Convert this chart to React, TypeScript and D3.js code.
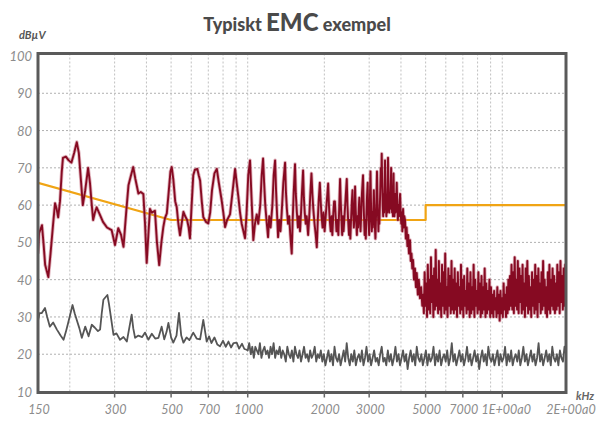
import * as d3 from "d3";

// ---- data (kHz / dBµV) ----
const yTickValues = [10, 20, 30, 40, 50, 60, 70, 80, 90, 100];
const xTickValues = [150, 300, 500, 700, 1000, 2000, 3000, 5000, 7000, 10000, 17800];
const xTickText = ["150", "300", "500", "700", "1000", "2000", "3000", "5000", "7000", "1E+00a0", "2E+00a0"];
const xGridValues = [200, 300, 400, 500, 600, 700, 800, 900, 1000, 2000, 3000, 4000, 5000, 6000, 7000, 8000, 9000, 10000];

// limit line (quasi-peak)
const limitFreq = [150, 500, 5000, 5000, 17800];
const limitVal = [66, 56, 56, 60, 60];

// measured emission, explicit points 150 kHz .. 4.9 MHz
const redPoints: [number, number][] = [
  [150, 47], [151.5, 52.5], [155.5, 54.6], [158, 49], [160, 44], [164.7, 40.7], [168, 47], [172, 55],
  [175, 60.5], [177.5, 59], [180, 56.7], [183, 61], [186, 69], [188, 72.7], [193, 73], [198, 72],
  [203, 71.4], [208, 74], [213, 76.9], [217, 74], [221, 67], [225, 60], [230, 64], [236, 70],
  [240, 66], [244, 60], [247, 56], [251, 58], [255, 59.4], [263, 57.3], [270, 55.5], [280, 54],
  [292, 53.3], [301, 49.3], [310, 53.8], [318, 52], [325, 48.8], [333, 58], [340, 65.3], [348, 68],
  [355, 70.2], [362, 67], [372, 63.1], [380, 63.5], [389, 63], [395, 55], [401, 44.5], [407, 52],
  [413, 59], [420, 58], [432, 58.5], [440, 50], [449, 43.9], [458, 50], [466, 54.1], [473, 56.5],
  [481, 57.8], [490, 64], [497, 69], [503, 70.2], [510, 67], [519, 61], [526, 59.5], [534, 55],
  [542, 51.9], [550, 55], [559, 58.2], [568, 57], [578, 56], [586, 54], [593, 51.1], [600, 58],
  [611, 68], [620, 69.5], [634, 69.7], [642, 68], [650, 66.6], [660, 61], [669, 56.8], [685, 55.5],
  [700, 55.1], [712, 58], [724, 64], [740, 68.5], [756, 69.7], [770, 66], [790, 61.3], [802, 58],
  [815, 54.1], [830, 56], [852, 57.5], [870, 63], [892, 69.7], [905, 66], [919, 62.2], [933, 58],
  [947, 55], [976, 51.1], [990, 58], [1005, 68], [1021, 72], [1035, 62], [1052, 50.6], [1068, 55],
  [1085, 57.5], [1100, 55], [1120, 60], [1135, 68], [1149, 72.5], [1160, 66], [1172, 60], [1185, 56],
  [1202, 51.4], [1215, 57], [1230, 54], [1250, 60], [1265, 68], [1281, 72], [1292, 64], [1305, 57],
  [1316, 51.4], [1330, 56], [1345, 53], [1360, 58], [1380, 66], [1402, 71.4], [1412, 64], [1425, 59],
  [1440, 55], [1455, 57], [1470, 52], [1489, 47], [1500, 55], [1515, 63], [1534, 71], [1545, 63],
  [1560, 58], [1575, 54], [1590, 57], [1605, 53], [1620, 58], [1635, 64], [1650, 69.3], [1662, 62],
  [1675, 58], [1690, 55], [1705, 57], [1727, 52], [1745, 57], [1762, 63], [1780, 68.5], [1795, 63],
  [1810, 59], [1830, 55], [1850, 52], [1868, 48.7], [1885, 56], [1900, 61], [1920, 66], [1935, 61],
  [1950, 57], [1968, 54], [1985, 58], [2005, 53], [2025, 57], [2045, 61], [2070, 65.8], [2085, 60],
  [2100, 56], [2118, 53], [2135, 57], [2150, 52], [2170, 58], [2185, 61], [2200, 61], [2215, 57],
  [2232, 53], [2250, 56], [2270, 52], [2290, 60], [2306, 67], [2320, 61], [2335, 56], [2350, 52],
  [2365, 57], [2380, 53], [2400, 57], [2425, 62], [2450, 67], [2465, 60], [2480, 56], [2500, 52],
  [2515, 56], [2530, 51], [2550, 57], [2565, 61], [2580, 64], [2595, 58], [2612, 54], [2628, 57],
  [2641, 65], [2655, 59], [2670, 55], [2685, 52], [2700, 57], [2715, 54], [2730, 59], [2745, 62],
  [2760, 56], [2775, 53], [2790, 57], [2810, 63], [2838, 68], [2852, 61], [2866, 56], [2880, 52],
  [2895, 56], [2910, 51], [2925, 57], [2940, 62], [2960, 66], [2972, 59], [2985, 55], [3000, 52],
  [3012, 57], [3024, 64], [3036, 69], [3048, 62], [3060, 56], [3072, 53], [3085, 58], [3100, 54],
  [3115, 59], [3130, 64], [3145, 58], [3160, 54], [3175, 51], [3190, 56], [3205, 62], [3220, 69],
  [3235, 62], [3250, 57], [3262, 53], [3275, 58], [3290, 55], [3305, 60], [3320, 65], [3335, 70],
  [3350, 66], [3361, 73.8], [3375, 66], [3390, 60], [3405, 57], [3420, 63], [3435, 58], [3450, 66],
  [3463, 72], [3475, 65], [3490, 60], [3505, 57], [3520, 62], [3535, 58], [3548, 67], [3558, 72.7],
  [3572, 66], [3585, 61], [3600, 58], [3615, 63], [3630, 59], [3645, 65], [3660, 70], [3675, 63],
  [3690, 58], [3705, 62], [3720, 57], [3740, 68.5], [3755, 61], [3770, 57], [3790, 63], [3810, 58],
  [3830, 61], [3850, 66], [3870, 60], [3890, 56], [3910, 60], [3930, 57], [3950, 61], [3968, 63],
  [3990, 58], [4010, 55], [4030, 58], [4050, 53], [4077, 59], [4100, 54], [4125, 57], [4150, 56],
  [4180, 51], [4210, 54], [4240, 49], [4270, 52], [4300, 47], [4341, 50.6], [4370, 45], [4400, 47],
  [4430, 43], [4462, 45.3], [4500, 40], [4540, 43], [4580, 38], [4614, 41.8], [4660, 36], [4700, 40],
  [4750, 35], [4800, 38], [4850, 33], [4886, 35.4],
];

// measured emission, dense sweep 4.9 MHz .. 17.8 MHz (log-spaced samples)
const redSweepStart = 4886;
const redSweepEnd = 17800;
const redSweep = [
  36, 31, 42, 33, 39, 30, 44, 32, 40, 31, 46, 34, 41, 30, 43, 32, 48, 33, 40, 31, 45, 32, 39, 30, 44, 33, 42, 31, 47, 32, 38, 30, 43, 33, 41, 31, 45, 32, 40, 31,
  43, 32, 39, 30, 42, 33, 38, 31, 44, 32, 40, 30, 41, 33, 37, 31, 43, 32, 39, 30, 42, 31, 38, 32, 44, 30, 40, 33, 37, 31, 42, 32, 39, 30, 41, 31, 38, 32, 43, 30, 39, 31, 37, 32, 40, 30,
  38, 31, 36, 30, 37, 32, 35, 30, 38, 31, 36, 29, 37, 31, 35, 30, 39, 32, 36, 30, 38, 31, 40, 32, 41, 33,
  44, 32, 42, 31, 46, 33, 40, 32, 45, 31, 43, 34, 41, 31, 44, 32, 39, 30, 43, 33, 45, 31, 41, 32, 38, 30, 42, 33, 40, 31, 44, 32, 41, 30, 43, 34, 39, 31, 42, 32,
  45, 33, 40, 31, 38, 30, 42, 32, 44, 31, 40, 33, 43, 32, 41, 31, 39, 32, 44, 33, 42, 31, 45, 34, 41, 32, 43, 33, 44, 36,
];

// background / ambient, explicit points 150 kHz .. 1 MHz
const grayPoints: [number, number][] = [
  [150, 29], [152, 31], [155, 31], [159.8, 32.4], [163, 30], [167, 27.4], [172, 28.5], [178, 26.6],
  [184, 25], [189, 23.9], [193, 26], [197, 28.4], [205, 33.2], [209, 31], [213, 29.2], [218, 27],
  [223, 24.4], [230, 27.4], [237, 24.8], [244, 27.9], [251, 27.1], [258, 26.2], [263, 26.6], [267, 31],
  [271, 34.6], [281, 35.9], [285, 33.5], [288, 31.4], [297, 25.2], [305, 25.6], [315, 23.9], [325, 24.6],
  [335, 23.4], [350, 30.6], [355, 27], [361, 24.4], [372, 25], [385, 24.6], [395, 25.8], [407, 23.9],
  [420, 25.5], [433, 24.2], [446, 24.4], [459, 27.4], [470, 24], [480, 26], [488, 28.4], [500, 24.5],
  [510, 23.1], [525, 25], [537, 31.1], [548, 25], [559, 23.1], [575, 24.5], [590, 23.8], [611, 25.8],
  [630, 24.2], [650, 24], [669, 29.2], [690, 23.4], [705, 24.8], [720, 23], [740, 24.5], [760, 22.6],
  [778, 22.1], [800, 23.6], [820, 22], [840, 23.4], [860, 21.8], [880, 23], [905, 23.1], [925, 21.5],
  [950, 22.8], [970, 21.4], [991, 21.2],
];

// background, dense sweep 1 MHz .. 17.8 MHz
const graySweepStart = 1000;
const graySweepEnd = 17800;
const graySweep = [
  21, 23, 20, 22, 19, 22, 21, 20, 23, 19, 21, 22, 20, 21, 19, 22, 20, 23, 19, 21, 20, 22, 19, 21, 20, 18, 22, 20, 19, 21, 18, 22, 20, 19, 21, 18, 20, 22, 19, 20, 18, 21, 19, 20, 22, 18, 20, 19, 21, 18,
  20, 17, 19, 21, 18, 20, 17, 22, 19, 18, 20, 17, 19, 21, 18, 23, 19, 17, 20, 18, 21, 17, 19, 20, 18, 21, 17, 19, 22, 18, 20, 17, 19, 21, 18, 19, 17, 20, 22, 18,
  19, 17, 21, 18, 20, 17, 19, 22, 18, 20, 17, 19, 21, 18, 20, 16, 19, 21, 18, 20, 17, 22, 19, 18, 20, 17, 19, 21, 17, 20, 18, 19, 22, 17, 20, 18, 21, 17, 19, 20,
  18, 21, 17, 19, 23, 18, 20, 17, 19, 21, 18, 20, 17, 19, 22, 18, 20, 17, 19, 21, 18, 20, 16, 19, 21, 18, 20, 17, 22, 19, 18, 20, 17, 19, 21, 17, 20, 18, 19, 22,
  17, 20, 18, 21, 17, 19, 20, 18, 21, 17, 19, 22, 18, 20, 17, 19, 21, 18, 20, 17, 19, 23, 18, 20, 17, 19, 21, 18, 20, 17, 22, 19, 18, 20, 17, 21, 19, 18, 22, 20,
];

// ---- layout ----
const W = 606;
const H = 421;
const plot = { left: 38, right: 566, top: 53.5, bottom: 392.5 };

const x = d3.scaleLog().domain([150, 17800]).range([plot.left, plot.right]);
const y = d3.scaleLinear().domain([10, 100]).range([391.5, 56]);

// sample frequencies of a log sweep
const sweepFreqs = (start: number, end: number, n: number) =>
  d3.range(n).map((i) => start * Math.pow(end / start, i / (n - 1)));

const line = d3
  .line<[number, number]>()
  .x((d) => x(d[0]))
  .y((d) => y(d[1]));

export default function App() {
  const redSweepF = sweepFreqs(redSweepStart, redSweepEnd, redSweep.length);
  const redData: [number, number][] = [
    ...redPoints,
    ...redSweep.map((v, i) => [redSweepF[i], v] as [number, number]),
  ];
  const graySweepF = sweepFreqs(graySweepStart, graySweepEnd, graySweep.length);
  const grayData: [number, number][] = [
    ...grayPoints,
    ...graySweep.map((v, i) => [graySweepF[i], v] as [number, number]),
  ];
  const limitData = limitFreq.map((f, i) => [f, limitVal[i]] as [number, number]);

  const labelFont = "Lato, 'DejaVu Sans', sans-serif";

  return (
    <svg
      width={W}
      height={H}
      viewBox={`0 0 ${W} ${H}`}
      style={{ position: "absolute", left: 0, top: 0, background: "#fff" }}
    >
      <defs>
        <clipPath id="plotClip">
          <rect x={plot.left} y={plot.top} width={plot.right - plot.left} height={plot.bottom - plot.top} />
        </clipPath>
      </defs>

      {/* Title */}
      <text x={297} y={31} textAnchor="middle" fontFamily={labelFont} fontWeight="900" fill="#4a4a4a" fontSize="18">
        Typiskt <tspan fontSize="24">EMC</tspan> exempel
      </text>

      {/* Unit labels */}
      <text x={19} y={39} fontFamily={labelFont} fontWeight="700" fontStyle="italic" fontSize="11" fill="#555">
        dBµV
      </text>
      <text x={576} y={400} fontFamily={labelFont} fontWeight="700" fontStyle="italic" fontSize="11" fill="#666">
        kHz
      </text>

      {/* Horizontal grid */}
      {yTickValues.slice(1, -1).map((v) => (
        <line
          key={`hg-${v}`}
          x1={plot.left}
          x2={plot.right}
          y1={y(v)}
          y2={y(v)}
          stroke="#b0b0b0"
          strokeWidth={1}
          strokeDasharray="2,2"
        />
      ))}

      {/* Vertical grid */}
      {xGridValues.map((f) => (
        <line
          key={`vg-${f}`}
          x1={x(f)}
          x2={x(f)}
          y1={plot.top}
          y2={plot.bottom}
          stroke="#c0c0c0"
          strokeWidth={1}
          strokeDasharray="2,2"
        />
      ))}

      {/* Traces */}
      <g clipPath="url(#plotClip)" fill="none" strokeLinejoin="round">
        <path d={line(grayData) || ""} stroke="#555" strokeWidth={1.8} />
        <path d={line(limitData) || ""} stroke="#f0a414" strokeWidth={2.2} />
        <path d={line(redData) || ""} stroke="#c46a7c" strokeOpacity={0.5} strokeWidth={3.6} />
        <path d={line(redData) || ""} stroke="#860a22" strokeWidth={1.9} />
      </g>

      {/* Frame */}
      <rect
        x={plot.left}
        y={plot.top}
        width={plot.right - plot.left}
        height={plot.bottom - plot.top}
        fill="none"
        stroke="#5a5a5a"
        strokeWidth={3}
      />

      {/* Y labels */}
      {yTickValues.map((v) => (
        <text
          key={`yl-${v}`}
          x={32}
          y={y(v)}
          textAnchor="end"
          dominantBaseline="central"
          fontFamily={labelFont}
          fontStyle="italic"
          fontSize="13"
          fill="#8c8c8c"
        >
          {v}
        </text>
      ))}

      {/* X ticks and labels */}
      {xTickValues.map((f, i) => (
        <g key={`xt-${f}`}>
          {i > 0 && i < xTickValues.length - 1 && (
            <line x1={x(f)} x2={x(f)} y1={plot.bottom} y2={plot.bottom + 5} stroke="#666" strokeWidth={1.5} />
          )}
          <text
            x={x(f) + (i === xTickValues.length - 1 ? 5 : i === xTickValues.length - 2 ? 4 : 1)}
            y={414}
            textAnchor="middle"
            fontFamily={labelFont}
            fontStyle="italic"
            fontSize="12.5"
            fill="#8c8c8c"
          >
            {xTickText[i]}
          </text>
        </g>
      ))}
    </svg>
  );
}
